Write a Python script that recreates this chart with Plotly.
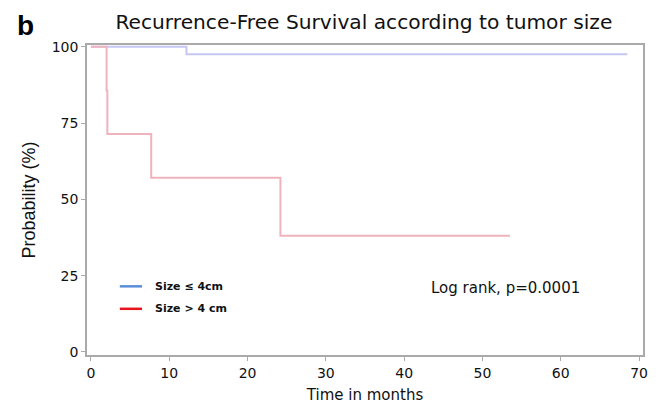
import plotly.graph_objects as go

# Data
small_time = [0, 12.2, 68.5]
small_surv = [100, 97.6, 97.6]
large_time = [0, 2.0, 2.1, 7.7, 24.2, 53.5]
large_surv = [100, 85.7, 71.4, 57.1, 38.1, 38.1]
x_ticks = [0, 10, 20, 30, 40, 50, 60, 70]
y_ticks = [0, 25, 50, 75, 100]
legend_labels = ["Size \u2264 4cm", "Size > 4 cm"]
legend_colors = ["#5b8ed8", "#e8141c"]

FONT = "DejaVu Sans, Liberation Sans, Arial, sans-serif"
FONT2 = "Liberation Sans, Arial, Helvetica, sans-serif"

fig = go.Figure()
fig.add_trace(go.Scatter(x=small_time, y=small_surv, mode="lines", line_shape="hv",
                         line=dict(color="#c6c6f4", width=2), showlegend=False))
fig.add_trace(go.Scatter(x=large_time, y=large_surv, mode="lines", line_shape="hv",
                         line=dict(color="#efb3bd", width=2), showlegend=False))

# Custom legend (inside plot)
leg_y = [0.2215, 0.149]
for lab, col, yy in zip(legend_labels, legend_colors, leg_y):
    fig.add_shape(type="line", xref="paper", yref="paper", x0=0.059, x1=0.099, y0=yy, y1=yy,
                  line=dict(color=col, width=2.5))
    fig.add_annotation(x=0.119, y=yy, xref="paper", yref="paper", text="<b>%s</b>" % lab,
                       showarrow=False, xanchor="left", yanchor="middle",
                       font=dict(size=11, color="#111", family=FONT))

fig.add_annotation(x=0.615, y=0.215, xref="paper", yref="paper", text="Log rank, p=0.0001",
                   showarrow=False, xanchor="left", yanchor="middle",
                   font=dict(size=15, color="#111", family=FONT))

fig.add_annotation(x=-0.11, y=1.062, xref="paper", yref="paper", text="<b>b</b>", showarrow=False,
                   xanchor="center", yanchor="middle", font=dict(size=28, color="#000", family=FONT2))

fig.update_layout(
    width=663, height=413,
    margin=dict(l=87, r=20, t=45, b=52),
    paper_bgcolor="white", plot_bgcolor="white",
    title=dict(text="Recurrence-Free Survival according to tumor size", xref="paper", x=0.498,
               xanchor="center", yref="container", y=1 - 22 / 413, yanchor="middle",
               font=dict(size=20.2, color="#111", family=FONT)),
    font=dict(family=FONT, color="#111"),
    xaxis=dict(range=[-0.5, 70.5], tickvals=x_ticks, ticks="outside", ticklen=4, tickcolor="#aaa",
               showline=True, linecolor="#aaaaaa", linewidth=1.5, mirror=True, showgrid=False,
               zeroline=False, tickfont=dict(size=14),
               title=dict(text="Time in months", font=dict(size=15), standoff=10)),
    yaxis=dict(range=[-1, 100.6], tickvals=y_ticks, ticks="outside", ticklen=4, tickcolor="#aaa",
               showline=True, linecolor="#aaaaaa", linewidth=1.5, mirror=True, showgrid=False,
               zeroline=False, tickfont=dict(size=14),
               title=dict(text="Probability (%)", font=dict(size=18, family=FONT2), standoff=11)),
)

fig.write_html("out.html", config={"displayModeBar": False},
               post_script="document.body.style.margin='0';")
